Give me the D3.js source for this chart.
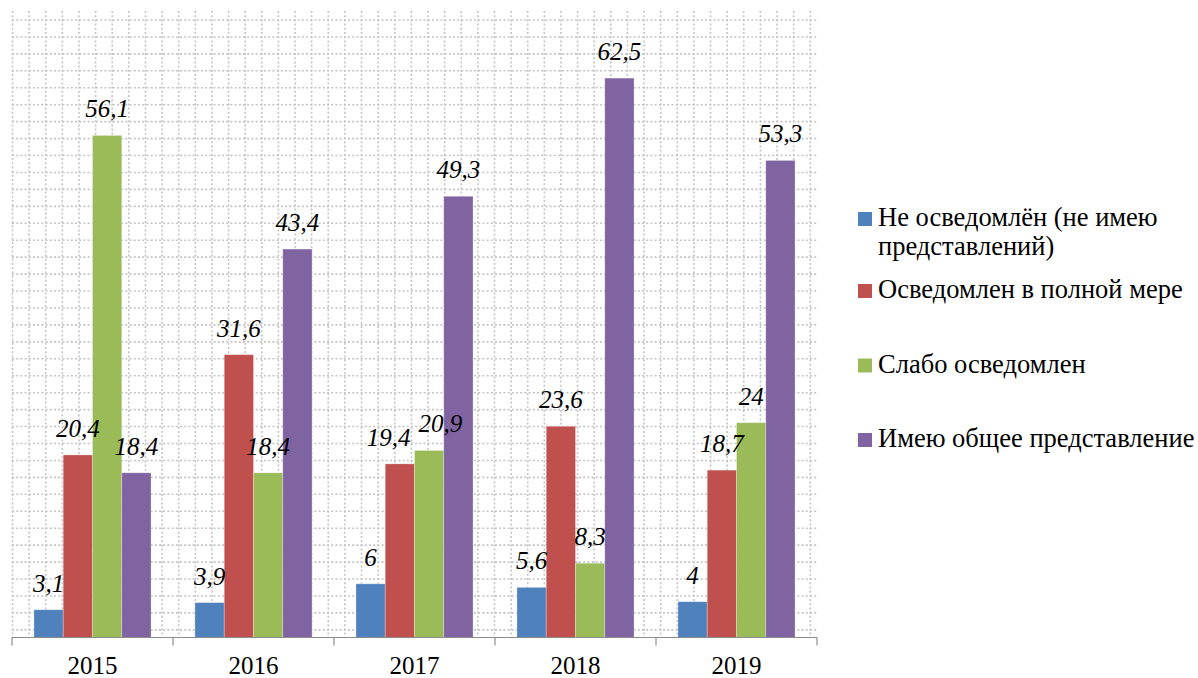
<!DOCTYPE html>
<html>
<head>
<meta charset="utf-8" />
<title>Осведомлённость, 2015–2019</title>
<style>
  body { margin: 0; background: #fff; }
  #chart svg { display: block; }
  .lbl { font-family: "Times New Roman", "Liberation Serif", "DejaVu Serif", serif; font-style: italic; font-size: 25px; fill: #000; }
  .tick text { font-family: "Times New Roman", "Liberation Serif", "DejaVu Serif", serif; font-size: 25px; fill: #000; }
  .legend text { font-family: "Times New Roman", "Liberation Serif", "DejaVu Serif", serif; font-size: 26.5px; fill: #000; }
</style>
</head>
<body>
<div id="chart"></div>
<script src="https://cdnjs.cloudflare.com/ajax/libs/d3/7.8.5/d3.min.js"></script>
<script>
var years = ["2015", "2016", "2017", "2018", "2019"];
var seriesNames = [
  "Не осведомлён (не имею представлений)",
  "Осведомлен в полной мере",
  "Слабо осведомлен",
  "Имею общее представление"
];
var seriesColors = ["#4f81bd", "#c0504d", "#9bbb59", "#8064a2"];
var notInformed = [3.1, 3.9, 6, 5.6, 4];
var fullyInformed = [20.4, 31.6, 19.4, 23.6, 18.7];
var weaklyInformed = [56.1, 18.4, 20.9, 8.3, 24];
var generalIdea = [18.4, 43.4, 49.3, 62.5, 53.3];
var seriesValues = [notInformed, fullyInformed, weaklyInformed, generalIdea];
var yMax = 70;

var width = 1198, height = 678;
var plot = { left: 12, right: 817, top: 11, bottom: 637.5 };

var svg = d3.select("#chart").append("svg")
  .attr("width", width)
  .attr("height", height);

var x = d3.scaleBand().domain(years).range([plot.left, plot.right]);
var y = d3.scaleLinear().domain([0, yMax]).range([plot.bottom, plot.top]);
// Excel style: gap width 150% between clusters
var barW = x.bandwidth() / (seriesNames.length + 1.5);
var xs = d3.scaleBand().domain(d3.range(seriesNames.length))
  .range([0.75 * barW, 0.75 * barW + seriesNames.length * barW]);

// dotted background pattern of the plot area
var grid = svg.append("g").attr("class", "grid")
  .attr("stroke", "#c4c4c4").attr("stroke-width", 1.6).attr("stroke-dasharray", "2,2.2");
var step = 16.94, vstep = 16.62;
grid.selectAll("line.h").data(d3.range(0, 37)).enter().append("line")
  .attr("class", "h")
  .attr("x1", plot.left).attr("x2", plot.right)
  .attr("y1", function(d) { return 20 + d * step; })
  .attr("y2", function(d) { return 20 + d * step; });
grid.selectAll("line.v").data(d3.range(0, 49)).enter().append("line")
  .attr("class", "v")
  .attr("y1", plot.top).attr("y2", plot.bottom)
  .attr("x1", function(d) { return plot.left + 0.5 + d * vstep; })
  .attr("x2", function(d) { return plot.left + 0.5 + d * vstep; });

// bars
var rows = [];
seriesValues.forEach(function(vals, s) {
  vals.forEach(function(v, i) { rows.push({ s: s, year: years[i], v: v }); });
});

svg.append("g").selectAll("rect").data(rows).enter().append("rect")
  .attr("x", function(d) { return x(d.year) + xs(d.s); })
  .attr("y", function(d) { return y(d.v); })
  .attr("width", xs.bandwidth())
  .attr("height", function(d) { return y(0) - y(d.v); })
  .attr("fill", function(d) { return seriesColors[d.s]; })
  .attr("stroke", "#ffffff").attr("stroke-opacity", 0.35).attr("stroke-width", 0.8);

var labels = svg.append("g").selectAll("text").data(rows).enter().append("text")
  .attr("class", "lbl")
  .attr("text-anchor", "middle")
  .attr("x", function(d) { return x(d.year) + xs(d.s) + xs.bandwidth() / 2; })
  .attr("y", function(d) { return y(d.v) - 18; })
  .text(function(d) { return String(d.v).replace(".", ","); });

// push neighbouring labels apart when they collide
labels.each(function(d) { d.box = this.getBBox(); d.dx = 0; });
rows.forEach(function(a) {
  rows.forEach(function(b) {
    if (a.year !== b.year || b.s !== a.s + 1) return;
    var vOver = Math.abs(a.box.y - b.box.y) < a.box.height * 0.8;
    var hOver = (a.box.x + a.box.width + 2) - b.box.x;
    if (vOver && hOver > 0) { a.dx -= hOver / 2 + 3; b.dx += hOver / 2 + 3; }
  });
});
labels.attr("dx", function(d) { return d.dx; });

// category axis
var xAxis = d3.axisBottom(x).tickSize(0).tickPadding(19);
var ax = svg.append("g").attr("transform", "translate(0," + plot.bottom + ")").call(xAxis);
ax.select(".domain").remove();
ax.append("line").attr("x1", plot.left).attr("x2", plot.right)
  .attr("stroke", "#8c8c8c").attr("stroke-width", 1.2);
ax.selectAll("line.sep").data(years.concat(["end"])).enter().append("line")
  .attr("class", "sep")
  .attr("x1", function(d, i) { return i < years.length ? x(d) : plot.right; })
  .attr("x2", function(d, i) { return i < years.length ? x(d) : plot.right; })
  .attr("y1", 0).attr("y2", 8)
  .attr("stroke", "#8c8c8c").attr("stroke-width", 1.2);

// legend
var legendLines = [["Не осведомлён (не имею", "представлений)"], [seriesNames[1]], [seriesNames[2]], [seriesNames[3]]];
var legendY = [226, 298, 372.5, 447];
var lg = svg.append("g").attr("class", "legend");
var item = lg.selectAll("g").data(legendLines).enter().append("g")
  .attr("transform", function(d, i) { return "translate(858," + legendY[i] + ")"; });
item.append("rect")
  .attr("x", 0).attr("y", -14).attr("width", 14).attr("height", 14)
  .attr("fill", function(d, i) { return seriesColors[i]; });
item.append("text")
  .attr("x", 20)
  .selectAll("tspan").data(function(d) { return d; }).enter().append("tspan")
  .attr("x", 20)
  .attr("dy", function(d, i) { return i === 0 ? 0 : 29; })
  .text(function(d) { return d; });
</script>
</body>
</html>
